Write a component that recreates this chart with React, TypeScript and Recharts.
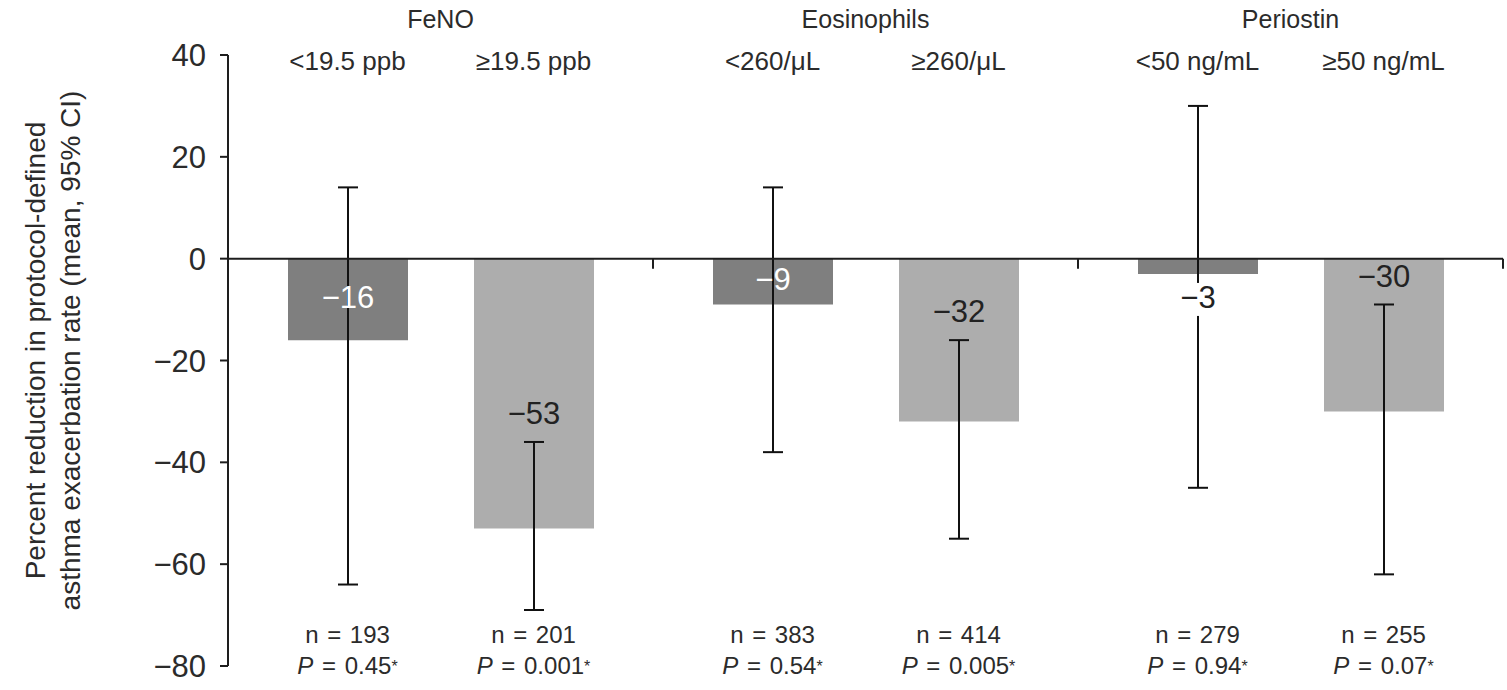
import React from 'react';
import { BarChart, Bar, XAxis, YAxis, ErrorBar, LabelList, ReferenceLine } from 'recharts';

// biomarker groups, low / high subgroup per group
const groups = ['FeNO', 'Eosinophils', 'Periostin'];
const lowLabels = ['<19.5 ppb', '<260/μL', '<50 ng/mL'];
const highLabels = ['≥19.5 ppb', '≥260/μL', '≥50 ng/mL'];
const lowValues = [-16, -9, -3];
const highValues = [-53, -32, -30];
const lowCiLow = [-64, -38, -45];
const lowCiHigh = [14, 14, 30];
const highCiLow = [-69, -55, -62];
const highCiHigh = [-36, -16, -9];
const lowN = [193, 383, 279];
const highN = [201, 414, 255];
const lowP = ['0.45', '0.54', '0.94'];
const highP = ['0.001', '0.005', '0.07'];
const yTicks = [40, 20, 0, -20, -40, -60, -80];

const data = groups.map((g, i) => ({
  group: g,
  low: lowValues[i],
  high: highValues[i],
  lowErr: [lowValues[i] - lowCiLow[i], lowCiHigh[i] - lowValues[i]],
  highErr: [highValues[i] - highCiLow[i], highCiHigh[i] - highValues[i]],
}));

const FONT = '"Liberation Sans", Arial, Helvetica, sans-serif';
const TEXT = '#2b2b2b';
const AXIS = '#1e1e1e';
const DARK = '#7f7f7f';
const LIGHT = '#adadad';
const BAR_SIZE = 120;
const BAR_GAP = 66;
const HALF = (BAR_SIZE + BAR_GAP) / 2;

const minus = (v: number) => (v < 0 ? `\u2212${Math.abs(v)}` : `${v}`);

const TopTick = (props: any) => {
  const { x, y, payload } = props;
  const i = groups.indexOf(payload.value);
  return (
    <g fontFamily={FONT} fill={TEXT}>
      <text x={x} y={y - 34} textAnchor="middle" dominantBaseline="middle" fontSize={25}>
        {payload.value}
      </text>
      <text x={x - HALF} y={y + 8} textAnchor="middle" dominantBaseline="middle" fontSize={26}>
        {lowLabels[i]}
      </text>
      <text x={x + HALF} y={y + 8} textAnchor="middle" dominantBaseline="middle" fontSize={26}>
        {highLabels[i]}
      </text>
    </g>
  );
};

const NText = ({ x, y, n }: { x: number; y: number; n: number }) => (
  <text x={x} y={y} textAnchor="middle" dominantBaseline="middle" fontSize={24} style={{ wordSpacing: 2 }}>
    {`n = ${n}`}
  </text>
);

const PText = ({ x, y, p }: { x: number; y: number; p: string }) => (
  <text x={x} y={y} textAnchor="middle" dominantBaseline="middle" fontSize={24} style={{ wordSpacing: 2 }}>
    <tspan fontStyle="italic">P</tspan>
    {` = ${p}`}
    <tspan fontSize={16}>*</tspan>
  </text>
);

const BottomTick = (props: any) => {
  const { x, y, payload } = props;
  const i = groups.indexOf(payload.value);
  return (
    <g fontFamily={FONT} fill={TEXT}>
      <NText x={x - HALF} y={y - 29} n={lowN[i]} />
      <NText x={x + HALF} y={y - 29} n={highN[i]} />
      <PText x={x - HALF} y={y + 2} p={lowP[i]} />
      <PText x={x + HALF} y={y + 2} p={highP[i]} />
    </g>
  );
};

// value label: above the CI cap when the CI is all below zero,
// inside the bar when it is tall enough, below the bar otherwise
const makeValueLabel = (values: number[], ciHigh: number[]) => (props: any) => {
  const vb = props.viewBox ?? props;
  const idx = props.index ?? values.indexOf(props.value);
  const v = values[idx];
  const top = Math.min(vb.y, vb.y + vb.height);
  const bottom = Math.max(vb.y, vb.y + vb.height);
  const pxPerUnit = (bottom - top) / Math.abs(v);
  const cx = vb.x + vb.width / 2;
  const common = {
    x: cx,
    textAnchor: 'middle' as const,
    dominantBaseline: 'middle' as const,
    fontSize: 31,
    fontFamily: FONT,
  };
  if (ciHigh[idx] < 0) {
    const capY = top - ciHigh[idx] * pxPerUnit;
    return (
      <text {...common} y={capY - 26} fill="#222">
        {minus(v)}
      </text>
    );
  }
  if (bottom - top >= 40) {
    return (
      <text {...common} y={(top + bottom) / 2} fill="#fff">
        {minus(v)}
      </text>
    );
  }
  return (
    <g>
      <rect x={cx - 6} y={bottom + 9} width={12} height={33} fill="#fff" />
      <text {...common} y={bottom + 26} fill="#222">
        {minus(v)}
      </text>
    </g>
  );
};

const YLabel = (props: any) => {
  const vb = props.viewBox;
  const cy = vb.y + vb.height / 2 - 10;
  return (
    <g fontFamily={FONT} fill={TEXT} fontSize={28}>
      <text x={38} y={cy} transform={`rotate(-90 38 ${cy})`} textAnchor="middle" dominantBaseline="middle">
        Percent reduction in protocol-defined
      </text>
      <text x={73} y={cy} transform={`rotate(-90 73 ${cy})`} textAnchor="middle" dominantBaseline="middle">
        asthma exacerbation rate (mean, 95% CI)
      </text>
    </g>
  );
};

export default function App() {
  return (
    <div style={{ position: 'absolute', left: 0, top: 0, width: 1507, height: 690, background: '#fff' }}>
      <BarChart
        width={1507}
        height={690}
        data={data}
        margin={{ top: 0, right: 4, bottom: 0, left: 0 }}
        barSize={BAR_SIZE}
        barGap={BAR_GAP}
      >
        <XAxis
          xAxisId="top"
          dataKey="group"
          orientation="top"
          height={55}
          axisLine={false}
          tickLine={false}
          tickSize={0}
          tickMargin={0}
          tick={<TopTick />}
          interval={0}
        />
        <XAxis
          dataKey="group"
          height={24}
          axisLine={false}
          tickLine={false}
          tickSize={0}
          tickMargin={0}
          tick={<BottomTick />}
          interval={0}
        />
        <YAxis
          width={228}
          domain={[-80, 40]}
          ticks={yTicks}
          tickFormatter={minus}
          tickSize={8}
          tickMargin={14}
          axisLine={{ stroke: AXIS, strokeWidth: 2 }}
          tickLine={{ stroke: AXIS, strokeWidth: 2 }}
          tick={{ fill: TEXT, fontSize: 31, fontFamily: FONT }}
          label={<YLabel />}
        />
        <Bar dataKey="low" fill={DARK} isAnimationActive={false}>
          <ErrorBar dataKey="lowErr" width={10} strokeWidth={2} stroke="#111" />
          <LabelList dataKey="low" content={makeValueLabel(lowValues, lowCiHigh)} />
        </Bar>
        <Bar dataKey="high" fill={LIGHT} isAnimationActive={false}>
          <ErrorBar dataKey="highErr" width={10} strokeWidth={2} stroke="#111" />
          <LabelList dataKey="high" content={makeValueLabel(highValues, highCiHigh)} />
        </Bar>
        <ReferenceLine y={0} stroke={AXIS} strokeWidth={2} />
        {groups.map((g) => (
          <ReferenceLine
            key={g}
            position="end"
            segment={[
              { x: g, y: 0 },
              { x: g, y: -2 },
            ]}
            stroke={AXIS}
            strokeWidth={2}
          />
        ))}
      </BarChart>
    </div>
  );
}
